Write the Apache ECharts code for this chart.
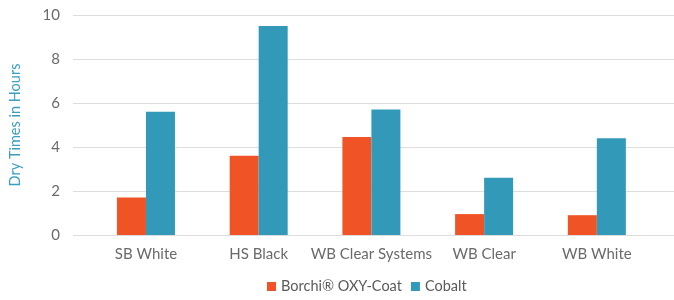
<!DOCTYPE html>
<html>
<head>
<meta charset="utf-8">
<script src="https://cdn.jsdelivr.net/npm/echarts@6/dist/echarts.min.js"></script>
<style>
  html, body { margin: 0; padding: 0; background: #fff; }
  #chart { width: 674px; height: 300px; }
</style>
</head>
<body>
<div id="chart"></div>
<script>
  // 数据
  const categories = ['SB White', 'HS Black', 'WB Clear Systems', 'WB Clear', 'WB White'];
  const borchi = [1.7, 3.6, 4.45, 0.95, 0.9];
  const cobalt = [5.6, 9.5, 5.7, 2.6, 4.4];
  const seriesNames = ['Borchi® OXY-Coat', 'Cobalt'];

  const C = {
    orange: '#f05325',
    blue: '#3399b8',
    grid: '#dddddd',
    label: '#6a6a6a',
    axisName: '#3a9fc0',
  };
  const FONT = 'Lato';

  const chart = echarts.init(document.getElementById('chart'), null, { renderer: 'canvas' });
  chart.setOption({
    backgroundColor: '#fff',
    animation: false,
    grid: [
      // 网格线用
      { left: 65, right: 0, top: 15, height: 220 },
      // 柱子用
      { left: 89.6, width: 563.6, top: 15, height: 220 },
    ],
    legend: {
      bottom: 1,
      left: 262,
      itemWidth: 9,
      itemHeight: 9,
      itemGap: 9,
      icon: 'rect',
      textStyle: { color: '#5a5a5a', fontFamily: FONT, fontSize: 14.5 },
      data: seriesNames,
    },
    xAxis: [
      { type: 'value', gridIndex: 0, show: false, min: 0, max: 1 },
      {
        type: 'category', gridIndex: 1, data: categories,
        axisLine: { show: false }, axisTick: { show: false },
        axisLabel: { color: C.label, fontFamily: FONT, fontSize: 15, margin: 12, interval: 0 },
      },
    ],
    yAxis: [
      {
        type: 'value', gridIndex: 0, min: 0, max: 10, interval: 2,
        name: 'Dry Times in Hours', nameLocation: 'middle', nameGap: 50, nameRotate: 90,
        nameTextStyle: { color: C.axisName, fontFamily: FONT, fontSize: 14.5 },
        axisLine: { show: false }, axisTick: { show: false },
        axisLabel: { color: C.label, fontFamily: FONT, fontSize: 15, margin: 13 },
        splitLine: { lineStyle: { color: C.grid, width: 1.2 } },
      },
      { type: 'value', gridIndex: 1, min: 0, max: 10, show: false },
    ],
    series: [
      {
        name: seriesNames[0], type: 'bar', xAxisIndex: 1, yAxisIndex: 1,
        data: borchi, barWidth: 29, barGap: '0%',
        itemStyle: { color: C.orange },
      },
      {
        name: seriesNames[1], type: 'bar', xAxisIndex: 1, yAxisIndex: 1,
        data: cobalt, barWidth: 29, barGap: '0%',
        itemStyle: { color: C.blue },
      },
    ],
  });
</script>
</body>
</html>
